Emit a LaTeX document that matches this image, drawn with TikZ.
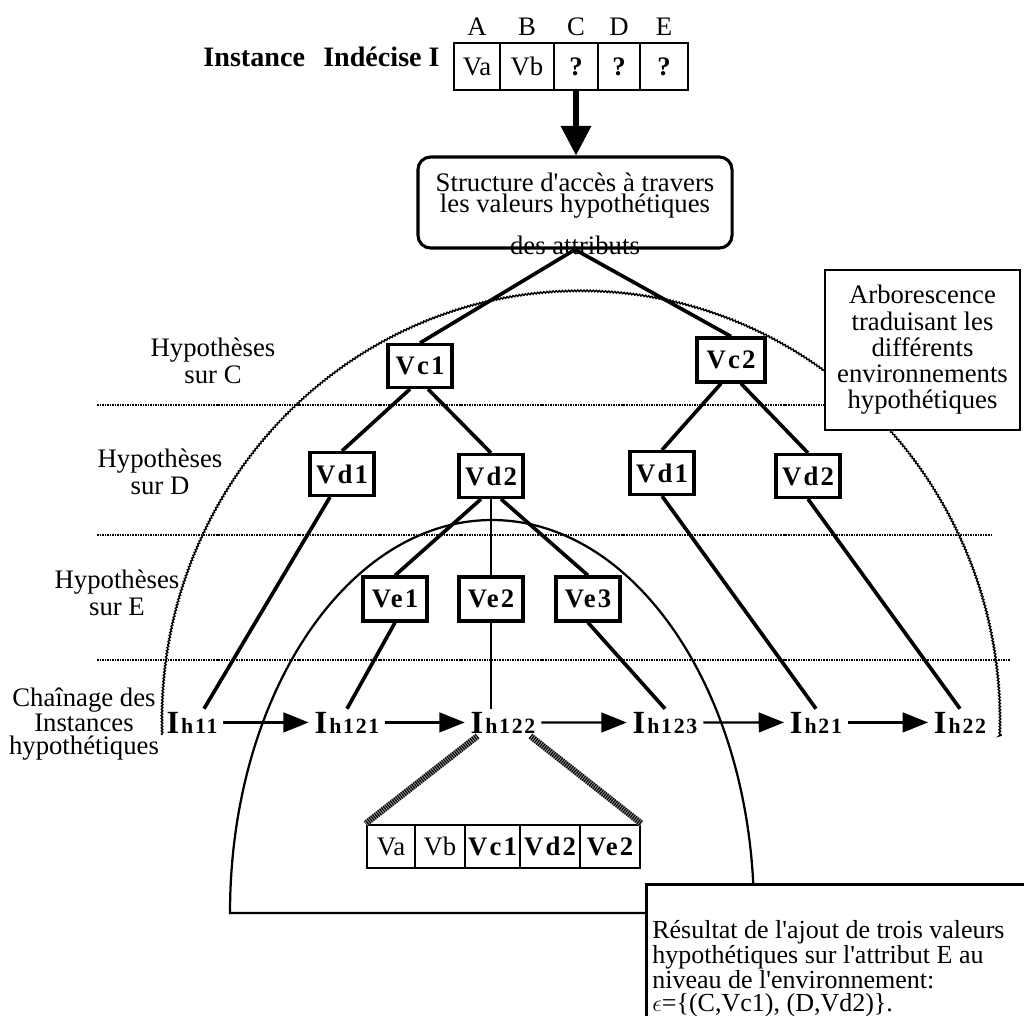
\documentclass[tikz,border=0pt]{standalone}
\usepackage{fontspec}
\setmainfont{Liberation Serif}
\newfontfamily\spacedfont[LetterSpace=8]{Liberation Serif}
\usetikzlibrary{calc,arrows.meta,decorations.pathmorphing}

\newcommand\mainsize{\fontsize{19}{19}\selectfont}
\newcommand\apos{\textquotesingle}
% label of a hypothetical instance: big bold I followed by smaller spaced index
\newcommand\instlabel[1]{{\fontsize{23}{23}\selectfont\bfseries I}\kern1.5pt{\spacedfont\bfseries\fontsize{15.5}{15.5}\selectfont #1}}

\tikzset{
  txt/.style={inner sep=0pt, font=\mainsize},
  cellbox/.style={draw, line width=2pt, inner sep=0pt, minimum height=1.175cm, font=\mainsize},
  valbox/.style={draw, fill=white, line width=2.2pt, inner sep=0pt, minimum width=1.6cm, minimum height=1.075cm, font=\spacedfont\bfseries\mainsize},
  ebox/.style={valbox, minimum height=1.1cm},
  link/.style={line width=2.6pt},
  thinlink/.style={line width=1.8pt},
  levelsep/.style={line width=1.6pt, dash pattern=on 1.1pt off 0.7pt},
  envelope/.style={line width=1pt, decorate, decoration={snake, amplitude=0.55pt, segment length=2.2pt}},
  envline/.style={line width=1.6pt},
  chain/.style={line width=1.6pt, -{Triangle[length=18pt,width=14pt]}, shorten <=2pt, shorten >=2pt},
  inst/.style={inner sep=2pt, anchor=base},
  hatch/.style={line width=4.4pt, draw=black, dash pattern=on 0.8pt off 0.8pt, preaction={draw=black!40, solid, line width=4.4pt}},
  note/.style={draw, fill=white, line width=2pt, font=\mainsize}
}

\begin{document}
\begin{tikzpicture}[x=0.025cm, y=-0.025cm]
\useasboundingbox (0,0) rectangle (1024,1015);

% ---- undecided instance with its five attributes
\node[txt] (colA) at (477,27) {A};
\node[txt] (colB) at (527,27) {B};
\node[txt] (colC) at (576,27) {C};
\node[txt] (colD) at (619,27) {D};
\node[txt] (colE) at (664,27) {E};
\node[cellbox, minimum width=1.15cm] (ca) at (477,66.5) {Va};
\node[cellbox, minimum width=1.35cm] (cb) at (527,66.5) {Vb};
\node[cellbox, minimum width=1.1cm] (cc) at (576,66.5) {\bfseries ?};
\node[cellbox, minimum width=1.05cm] (cd) at (619,66.5) {\bfseries ?};
\node[cellbox, minimum width=1.2cm] (ce) at (664,66.5) {\bfseries ?};
\node[txt, anchor=east, font=\bfseries\fontsize{20}{20}\selectfont] (undecided) at (440,57) {Instance\hspace{0.4em} Indécise I};

% ---- access structure
\node[draw, line width=2.2pt, rounded corners=9pt, minimum width=7.85cm, minimum height=2.275cm, inner sep=0pt] (access) at (575,202.5) {};
\node[txt, align=center, anchor=north, font=\fontsize{19}{15}\selectfont] (accesstxt) at (575,173) {Structure d\apos accès à travers\\les valeurs hypothétiques\\[11pt]des attributs};
\draw[line width=3.6pt, -{Triangle[length=21pt,width=21pt]}] (cc.south) -- (cc.south |- access.north);

% ---- envelope of all hypothetical environments
\coordinate (outc) at (582,720);
\draw[envelope] ([shift={(outc)}]178:420 and 430) arc[start angle=178, end angle=362, x radius=420, y radius=430];

\node[note, align=center, minimum width=4.875cm, minimum height=4cm, inner sep=0pt, font=\fontsize{19}{18.7}\selectfont] (arbo) at (922.5,350) {Arborescence\\traduisant les\\différents\\environnements\\hypothétiques};

% ---- level separators
\coordinate (sepC) at (97,405);
\draw[levelsep] (sepC) -- (sepC -| arbo.west);
\draw[levelsep] (97,535) -- (992,535);
\draw[levelsep] (97,660) -- (1010,660);

% ---- level captions
\node[txt, align=center, font=\fontsize{19}{19.2}\selectfont] (hypC) at (213,361) {Hypothèses\\sur C};
\node[txt, align=center, font=\fontsize{19}{19.2}\selectfont] (hypD) at (160,472) {Hypothèses\\sur D};
\node[txt, align=center, font=\fontsize{19}{19.2}\selectfont] (hypE) at (117,593) {Hypothèses\\sur E};
\node[txt, align=center, font=\fontsize{19}{16.5}\selectfont] (chaincap) at (84,724) {Chaînage des\\Instances\\hypothétiques};

% ---- result note and environment of (C,Vc1),(D,Vd2)
\node[note, anchor=north west, minimum width=10cm, minimum height=4cm, inner sep=0pt] (res) at (645,883) {};
\node[txt, anchor=north west, align=left, font=\fontsize{18.5}{16.3}\selectfont] (restxt) at (652,920) {Résultat de l\apos ajout de trois valeurs\\hypothétiques sur l\apos attribut E au\\niveau de l\apos environnement:\\$\epsilon$=\{(C,Vc1), (D,Vd2)\}.};
\coordinate (envc) at (492,913);
\draw[envline] ($(res.north west)+(0,30)$) -- ([shift={(envc)}]180:262 and 393) arc[start angle=180, end angle=355.6, x radius=262, y radius=393];

% ---- hypothesis tree
\node[valbox] (vc1) at (420,366) {Vc1};
\node[valbox, minimum width=1.7cm, minimum height=1.1cm] (vc2) at (731,360) {Vc2};
\node[valbox] (vd1) at (342,474) {Vd1};
\node[valbox] (vd2) at (491,476) {Vd2};
\node[valbox] (vd1r) at (662,473) {Vd1};
\node[valbox] (vd2r) at (808,476) {Vd2};
\node[ebox] (ve1) at (395,599) {Ve1};
\node[ebox] (ve2) at (491,599) {Ve2};
\node[ebox] (ve3) at (588,599) {Ve3};

\node[inst] (ih11) at (192,733) {\instlabel{h11}};
\node[inst] (ih121) at (347,733) {\instlabel{h121}};
\node[inst] (ih122) at (503,733) {\instlabel{h122}};
\node[inst] (ih123) at (665,733) {\instlabel{h123}};
\node[inst] (ih21) at (816,733) {\instlabel{h21}};
\node[inst] (ih22) at (960,733) {\instlabel{h22}};

\draw[link] (access.south) -- (vc1.north);
\draw[link] (access.south) -- (vc2.north);
\draw[link] ($(vc1.south)+(-10,0)$) -- (vd1.north);
\draw[link] ($(vc1.south)+(8,0)$) -- (vd2.north);
\draw[link] ($(vc2.south)+(-10,0)$) -- (vd1r.north);
\draw[link] ($(vc2.south)+(10,0)$) -- (vd2r.north);
\draw[link] ($(vd2.south)+(-10,0)$) -- (ve1.north);
\draw[thinlink] (vd2.south) -- (ve2.north);
\draw[link] ($(vd2.south)+(10,0)$) -- (ve3.north);
\draw[link] ($(vd1.south)+(-12,0)$) -- ($(ih11.north)+(12,0)$);
\draw[link] (ve1.south) -- (ih121.north);
\draw[thinlink] (ve2.south) -- (ve2.south |- ih122.north);
\draw[link] (ve3.south) -- (ih123.north);
\draw[link] (vd1r.south) -- (ih21.north);
\draw[link] (vd2r.south) -- (ih22.north);

% ---- chaining of hypothetical instances
\draw[chain] (ih11.east) -- (ih121.west);
\draw[chain] (ih121.east) -- (ih122.west);
\draw[chain] (ih122.east) -- (ih123.west);
\draw[chain] (ih123.east) -- (ih21.west);
\draw[chain] (ih21.east) -- (ih22.west);

% ---- content of instance Ih122
\node[cellbox, minimum width=1.2cm, minimum height=1.075cm] (ra) at (391,846.5) {Va};
\node[cellbox, minimum width=1.25cm, minimum height=1.075cm] (rb) at (440,846.5) {Vb};
\node[cellbox, minimum width=1.375cm, minimum height=1.075cm] (rc) at (492.5,846.5) {\spacedfont\bfseries Vc1};
\node[cellbox, minimum width=1.5cm, minimum height=1.075cm] (rd) at (550,846.5) {\spacedfont\bfseries Vd2};
\node[cellbox, minimum width=1.5cm, minimum height=1.075cm] (re) at (610,846.5) {\spacedfont\bfseries Ve2};
\draw[hatch] ($(ih122.south west)+(10,0)$) -- (ra.north west);
\draw[hatch] ($(ih122.south east)+(-8,0)$) -- (re.north east);
\end{tikzpicture}
\end{document}
